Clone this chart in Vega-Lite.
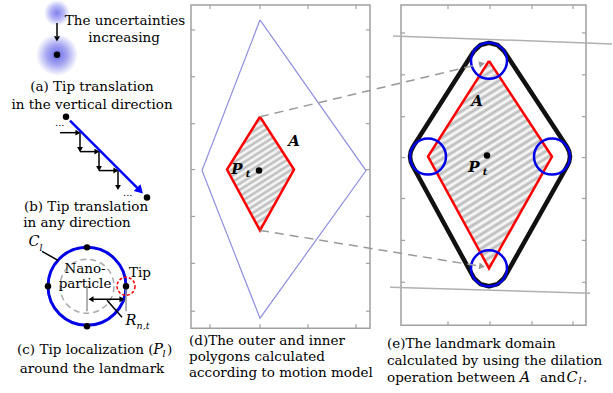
{
"$schema": "https://vega.github.io/schema/vega-lite/v6.json",
"width": 613, "height": 393,
"autosize": {"type": "fit", "contains": "padding"},
"padding": 0,
"background": "white",
"config": {"view": {"stroke": null}},
"encoding": {
  "x": {"field": "x", "type": "quantitative", "scale": {"domain": [0, 613], "nice": false, "zero": false}, "axis": null},
  "y": {"field": "y", "type": "quantitative", "scale": {"domain": [0, 393], "nice": false, "zero": false, "reverse": true}, "axis": null}
},
"layer": [
  {"data": {"values": [{"x": 191, "y": 4, "x2": 370, "y2": 328}, {"x": 401, "y": 4, "x2": 586, "y2": 325}]},
   "mark": {"type": "rect", "fillOpacity": 0, "stroke": "#a0a0a0", "strokeWidth": 1.5},
   "encoding": {"x2": {"field": "x2"}, "y2": {"field": "y2"}}},
  {"data": {"values": [
    {"x":191,"y":29,"x2":195,"y2":29},{"x":191,"y":76,"x2":195,"y2":76},{"x":191,"y":123,"x2":195,"y2":123},{"x":191,"y":169,"x2":195,"y2":169},{"x":191,"y":216,"x2":195,"y2":216},{"x":191,"y":263,"x2":195,"y2":263},{"x":191,"y":311,"x2":195,"y2":311},
    {"x":366,"y":29,"x2":370,"y2":29},{"x":366,"y":76,"x2":370,"y2":76},{"x":366,"y":123,"x2":370,"y2":123},{"x":366,"y":169,"x2":370,"y2":169},{"x":366,"y":216,"x2":370,"y2":216},{"x":366,"y":263,"x2":370,"y2":263},{"x":366,"y":311,"x2":370,"y2":311},
    {"x":210,"y":4,"x2":210,"y2":8},{"x":260,"y":4,"x2":260,"y2":8},{"x":308,"y":4,"x2":308,"y2":8},{"x":356,"y":4,"x2":356,"y2":8},
    {"x":210,"y":324,"x2":210,"y2":328},{"x":260,"y":324,"x2":260,"y2":328},{"x":308,"y":324,"x2":308,"y2":328},{"x":356,"y":324,"x2":356,"y2":328},
    {"x":401,"y":32,"x2":405,"y2":32},{"x":401,"y":74,"x2":405,"y2":74},{"x":401,"y":116,"x2":405,"y2":116},{"x":401,"y":157,"x2":405,"y2":157},{"x":401,"y":198,"x2":405,"y2":198},{"x":401,"y":240,"x2":405,"y2":240},{"x":401,"y":282,"x2":405,"y2":282},
    {"x":582,"y":32,"x2":586,"y2":32},{"x":582,"y":74,"x2":586,"y2":74},{"x":582,"y":116,"x2":586,"y2":116},{"x":582,"y":157,"x2":586,"y2":157},{"x":582,"y":198,"x2":586,"y2":198},{"x":582,"y":240,"x2":586,"y2":240},{"x":582,"y":282,"x2":586,"y2":282},
    {"x":448,"y":4,"x2":448,"y2":8},{"x":490,"y":4,"x2":490,"y2":8},{"x":532,"y":4,"x2":532,"y2":8},{"x":573,"y":4,"x2":573,"y2":8},
    {"x":448,"y":321,"x2":448,"y2":325},{"x":490,"y":321,"x2":490,"y2":325},{"x":532,"y":321,"x2":532,"y2":325},{"x":573,"y":321,"x2":573,"y2":325}
   ]},
   "mark": {"type": "rule", "stroke": "#a0a0a0", "strokeWidth": 1.2},
   "encoding": {"x2": {"field": "x2"}, "y2": {"field": "y2"}}},
  {"data": {"values": [{"x": 393, "y": 35, "x2": 612, "y2": 43}, {"x": 390, "y": 287, "x2": 590, "y2": 293}]},
   "mark": {"type": "rule", "stroke": "#b0b0b0", "strokeWidth": 1.5},
   "encoding": {"x2": {"field": "x2"}, "y2": {"field": "y2"}}},
  {"data": {"values": [{"x":260,"y":19,"o":1},{"x":366,"y":170,"o":2},{"x":260,"y":318,"o":3},{"x":202,"y":170,"o":4},{"x":260,"y":19,"o":5}]},
   "mark": {"type": "line", "stroke": "#8f8fe0", "strokeWidth": 1.2},
   "encoding": {"order": {"field": "o", "type": "quantitative"}}},
  {"data": {"values": [{"y":116,"x":260,"x2":260},{"y":169,"x":227,"x2":294},{"y":230,"x":260,"x2":260}]},
   "mark": {"type": "area", "orient": "horizontal", "fill": {"gradient": "linear", "x1": 0, "y1": 0, "x2": 0.45, "y2": 1.206, "stops": [
     {"offset":0,"color":"#b8b8b8"},{"offset":0.02,"color":"#ffffff"},{"offset":0.04,"color":"#b8b8b8"},{"offset":0.06,"color":"#ffffff"},{"offset":0.08,"color":"#b8b8b8"},{"offset":0.1,"color":"#ffffff"},{"offset":0.12,"color":"#b8b8b8"},{"offset":0.14,"color":"#ffffff"},{"offset":0.16,"color":"#b8b8b8"},{"offset":0.18,"color":"#ffffff"},{"offset":0.2,"color":"#b8b8b8"},{"offset":0.22,"color":"#ffffff"},{"offset":0.24,"color":"#b8b8b8"},{"offset":0.26,"color":"#ffffff"},{"offset":0.28,"color":"#b8b8b8"},{"offset":0.3,"color":"#ffffff"},{"offset":0.32,"color":"#b8b8b8"},{"offset":0.34,"color":"#ffffff"},{"offset":0.36,"color":"#b8b8b8"},{"offset":0.38,"color":"#ffffff"},{"offset":0.4,"color":"#b8b8b8"},{"offset":0.42,"color":"#ffffff"},{"offset":0.44,"color":"#b8b8b8"},{"offset":0.46,"color":"#ffffff"},{"offset":0.48,"color":"#b8b8b8"},{"offset":0.5,"color":"#ffffff"},{"offset":0.52,"color":"#b8b8b8"},{"offset":0.54,"color":"#ffffff"},{"offset":0.56,"color":"#b8b8b8"},{"offset":0.58,"color":"#ffffff"},{"offset":0.6,"color":"#b8b8b8"},{"offset":0.62,"color":"#ffffff"},{"offset":0.64,"color":"#b8b8b8"},{"offset":0.66,"color":"#ffffff"},{"offset":0.68,"color":"#b8b8b8"},{"offset":0.7,"color":"#ffffff"},{"offset":0.72,"color":"#b8b8b8"},{"offset":0.74,"color":"#ffffff"},{"offset":0.76,"color":"#b8b8b8"},{"offset":0.78,"color":"#ffffff"},{"offset":0.8,"color":"#b8b8b8"},{"offset":0.82,"color":"#ffffff"},{"offset":0.84,"color":"#b8b8b8"},{"offset":0.86,"color":"#ffffff"},{"offset":0.88,"color":"#b8b8b8"},{"offset":0.9,"color":"#ffffff"},{"offset":0.92,"color":"#b8b8b8"},{"offset":0.94,"color":"#ffffff"},{"offset":0.96,"color":"#b8b8b8"},{"offset":0.98,"color":"#ffffff"},{"offset":1,"color":"#b8b8b8"}]}},
   "encoding": {"x2": {"field": "x2"}}},
  {"data": {"values": [{"y":60,"x":489,"x2":489},{"y":156,"x":428,"x2":552},{"y":268,"x":489,"x2":489}]},
   "mark": {"type": "area", "orient": "horizontal", "fill": {"gradient": "linear", "x1": 0, "y1": 0, "x2": 0.45, "y2": 1.206, "stops": [
     {"offset":0,"color":"#b8b8b8"},{"offset":0.0125,"color":"#ffffff"},{"offset":0.025,"color":"#b8b8b8"},{"offset":0.0375,"color":"#ffffff"},{"offset":0.05,"color":"#b8b8b8"},{"offset":0.0625,"color":"#ffffff"},{"offset":0.075,"color":"#b8b8b8"},{"offset":0.0875,"color":"#ffffff"},{"offset":0.1,"color":"#b8b8b8"},{"offset":0.1125,"color":"#ffffff"},{"offset":0.125,"color":"#b8b8b8"},{"offset":0.1375,"color":"#ffffff"},{"offset":0.15,"color":"#b8b8b8"},{"offset":0.1625,"color":"#ffffff"},{"offset":0.175,"color":"#b8b8b8"},{"offset":0.1875,"color":"#ffffff"},{"offset":0.2,"color":"#b8b8b8"},{"offset":0.2125,"color":"#ffffff"},{"offset":0.225,"color":"#b8b8b8"},{"offset":0.2375,"color":"#ffffff"},{"offset":0.25,"color":"#b8b8b8"},{"offset":0.2625,"color":"#ffffff"},{"offset":0.275,"color":"#b8b8b8"},{"offset":0.2875,"color":"#ffffff"},{"offset":0.3,"color":"#b8b8b8"},{"offset":0.3125,"color":"#ffffff"},{"offset":0.325,"color":"#b8b8b8"},{"offset":0.3375,"color":"#ffffff"},{"offset":0.35,"color":"#b8b8b8"},{"offset":0.3625,"color":"#ffffff"},{"offset":0.375,"color":"#b8b8b8"},{"offset":0.3875,"color":"#ffffff"},{"offset":0.4,"color":"#b8b8b8"},{"offset":0.4125,"color":"#ffffff"},{"offset":0.425,"color":"#b8b8b8"},{"offset":0.4375,"color":"#ffffff"},{"offset":0.45,"color":"#b8b8b8"},{"offset":0.4625,"color":"#ffffff"},{"offset":0.475,"color":"#b8b8b8"},{"offset":0.4875,"color":"#ffffff"},{"offset":0.5,"color":"#b8b8b8"},{"offset":0.5125,"color":"#ffffff"},{"offset":0.525,"color":"#b8b8b8"},{"offset":0.5375,"color":"#ffffff"},{"offset":0.55,"color":"#b8b8b8"},{"offset":0.5625,"color":"#ffffff"},{"offset":0.575,"color":"#b8b8b8"},{"offset":0.5875,"color":"#ffffff"},{"offset":0.6,"color":"#b8b8b8"},{"offset":0.6125,"color":"#ffffff"},{"offset":0.625,"color":"#b8b8b8"},{"offset":0.6375,"color":"#ffffff"},{"offset":0.65,"color":"#b8b8b8"},{"offset":0.6625,"color":"#ffffff"},{"offset":0.675,"color":"#b8b8b8"},{"offset":0.6875,"color":"#ffffff"},{"offset":0.7,"color":"#b8b8b8"},{"offset":0.7125,"color":"#ffffff"},{"offset":0.725,"color":"#b8b8b8"},{"offset":0.7375,"color":"#ffffff"},{"offset":0.75,"color":"#b8b8b8"},{"offset":0.7625,"color":"#ffffff"},{"offset":0.775,"color":"#b8b8b8"},{"offset":0.7875,"color":"#ffffff"},{"offset":0.8,"color":"#b8b8b8"},{"offset":0.8125,"color":"#ffffff"},{"offset":0.825,"color":"#b8b8b8"},{"offset":0.8375,"color":"#ffffff"},{"offset":0.85,"color":"#b8b8b8"},{"offset":0.8625,"color":"#ffffff"},{"offset":0.875,"color":"#b8b8b8"},{"offset":0.8875,"color":"#ffffff"},{"offset":0.9,"color":"#b8b8b8"},{"offset":0.9125,"color":"#ffffff"},{"offset":0.925,"color":"#b8b8b8"},{"offset":0.9375,"color":"#ffffff"},{"offset":0.95,"color":"#b8b8b8"},{"offset":0.9625,"color":"#ffffff"},{"offset":0.975,"color":"#b8b8b8"},{"offset":0.9875,"color":"#ffffff"},{"offset":1,"color":"#b8b8b8"}]}},
   "encoding": {"x2": {"field": "x2"}}},
  {"data": {"values": [
    {"x":260,"y":116,"o":1,"g":"d"},{"x":294,"y":169,"o":2,"g":"d"},{"x":260,"y":230,"o":3,"g":"d"},{"x":227,"y":169,"o":4,"g":"d"},{"x":260,"y":116,"o":5,"g":"d"},
    {"x":489,"y":60,"o":1,"g":"e"},{"x":552,"y":156,"o":2,"g":"e"},{"x":489,"y":268,"o":3,"g":"e"},{"x":428,"y":156,"o":4,"g":"e"},{"x":489,"y":60,"o":5,"g":"e"}]},
   "mark": {"type": "line", "stroke": "#ff0000", "strokeWidth": 2.5, "strokeJoin": "miter"},
   "encoding": {"order": {"field": "o", "type": "quantitative"}, "detail": {"field": "g"}}},
  {"data": {"values": [
    {"x":474,"y":50.1,"o":1},{"x":480.5,"y":44.1,"o":2},{"x":489,"y":42,"o":3},{"x":497.5,"y":44.1,"o":4},{"x":504,"y":50.1,"o":5},
    {"x":567,"y":146.1,"o":6},{"x":569.2,"y":150.9,"o":7},{"x":570,"y":156,"o":8},{"x":569.2,"y":161.1,"o":9},{"x":567,"y":165.9,"o":10},
    {"x":504,"y":277.9,"o":11},{"x":497.5,"y":283.9,"o":12},{"x":489,"y":286,"o":13},{"x":480.5,"y":283.9,"o":14},{"x":474,"y":277.9,"o":15},
    {"x":413,"y":165.9,"o":16},{"x":410.8,"y":161.1,"o":17},{"x":410,"y":156,"o":18},{"x":410.8,"y":150.9,"o":19},{"x":413,"y":146.1,"o":20},{"x":474,"y":50.1,"o":21}]},
   "mark": {"type": "line", "stroke": "#111111", "strokeWidth": 4.5, "strokeJoin": "round"},
   "encoding": {"order": {"field": "o", "type": "quantitative"}}},
  {"data": {"values": [{"x":489,"y":60},{"x":552,"y":156},{"x":489,"y":268},{"x":428,"y":156}]},
   "mark": {"type": "point", "shape": "circle", "size": 1296, "filled": false, "stroke": "#0000e6", "strokeWidth": 2.5, "opacity": 1}},
  {"data": {"values": [{"x":87,"y":286}]},
   "mark": {"type": "point", "shape": "circle", "size": 6084, "filled": false, "stroke": "#0000e6", "strokeWidth": 3, "opacity": 1}},
  {"data": {"values": [{"x":87,"y":286}]},
   "mark": {"type": "point", "shape": "circle", "size": 2916, "filled": false, "stroke": "#aaaaaa", "strokeWidth": 1.5, "strokeDash": [6, 4], "opacity": 1}},
  {"data": {"values": [{"x":126,"y":286}]},
   "mark": {"type": "point", "shape": "circle", "size": 324, "filled": false, "stroke": "#ff0000", "strokeWidth": 1.5, "strokeDash": [3, 2], "opacity": 1}},
  {"data": {"values": [{"x":57,"y":12}]},
   "mark": {"type": "point", "shape": "circle", "size": 676, "filled": true, "strokeWidth": 0, "opacity": 1,
     "fill": {"gradient": "radial", "x1": 0.5, "y1": 0.5, "r1": 0, "x2": 0.5, "y2": 0.5, "r2": 0.5, "stops": [{"offset": 0, "color": "#8080ee"}, {"offset": 0.5, "color": "#b4b4f6"}, {"offset": 1, "color": "#ffffff"}]}}},
  {"data": {"values": [{"x":57,"y":54}]},
   "mark": {"type": "point", "shape": "circle", "size": 1764, "filled": true, "strokeWidth": 0, "opacity": 1,
     "fill": {"gradient": "radial", "x1": 0.5, "y1": 0.5, "r1": 0, "x2": 0.5, "y2": 0.5, "r2": 0.5, "stops": [{"offset": 0, "color": "#6a6ae8"}, {"offset": 0.5, "color": "#a8a8f2"}, {"offset": 1, "color": "#ffffff"}]}}},
  {"data": {"values": [{"x":260,"y":116,"x2":481,"y2":63},{"x":260,"y":230,"x2":481,"y2":266}]},
   "mark": {"type": "rule", "stroke": "#999999", "strokeWidth": 1.5, "strokeDash": [9, 6]},
   "encoding": {"x2": {"field": "x2"}, "y2": {"field": "y2"}}},
  {"data": {"values": [{"x":87,"y":286,"x2":87,"y2":311},{"x":126,"y":286,"x2":126,"y2":311}]},
   "mark": {"type": "rule", "stroke": "#999999", "strokeWidth": 1.5},
   "encoding": {"x2": {"field": "x2"}, "y2": {"field": "y2"}}},
  {"data": {"values": [
    {"x":57,"y":22,"x2":57,"y2":35},
    {"x":60,"y":132,"x2":76,"y2":132},{"x":80,"y":132,"x2":80,"y2":147},{"x":80,"y":151,"x2":95,"y2":151},{"x":99,"y":151,"x2":99,"y2":166},{"x":99,"y":170,"x2":114,"y2":170},{"x":118,"y":170,"x2":118,"y2":185},
    {"x":92,"y":299,"x2":121,"y2":299},{"x":42,"y":251,"x2":58,"y2":260},{"x":107,"y":300,"x2":122,"y2":317}]},
   "mark": {"type": "rule", "stroke": "#000000", "strokeWidth": 1.5},
   "encoding": {"x2": {"field": "x2"}, "y2": {"field": "y2"}}},
  {"data": {"values": [{"x":70,"y":120,"x2":138,"y2":188}]},
   "mark": {"type": "rule", "stroke": "#0000ff", "strokeWidth": 2.5},
   "encoding": {"x2": {"field": "x2"}, "y2": {"field": "y2"}}},
  {"data": {"values": [
    {"x":57,"y":38,"a":180},{"x":78,"y":132,"a":90},{"x":80,"y":149,"a":180},{"x":97,"y":151,"a":90},{"x":99,"y":168,"a":180},{"x":116,"y":170,"a":90},{"x":118,"y":187,"a":180},
    {"x":91,"y":299,"a":270},{"x":122,"y":299,"a":90}]},
   "mark": {"type": "point", "shape": "triangle-up", "size": 35, "filled": true, "color": "#000000", "opacity": 1},
   "encoding": {"angle": {"field": "a", "type": "quantitative", "scale": null}}},
  {"data": {"values": [{"x":140,"y":190,"a":135}]},
   "mark": {"type": "point", "shape": "triangle-up", "size": 90, "filled": true, "color": "#0000ff", "opacity": 1},
   "encoding": {"angle": {"field": "a", "type": "quantitative", "scale": null}}},
  {"data": {"values": [{"x":482,"y":63,"a":76.6},{"x":482,"y":266,"a":99.3}]},
   "mark": {"type": "point", "shape": "triangle-up", "size": 45, "filled": true, "color": "#999999", "opacity": 1},
   "encoding": {"angle": {"field": "a", "type": "quantitative", "scale": null}}},
  {"data": {"values": [{"x":57,"y":54},{"x":66,"y":116},{"x":147,"y":197},{"x":87,"y":247},{"x":48,"y":286},{"x":87,"y":326},{"x":126,"y":286},{"x":259,"y":170},{"x":487,"y":155}]},
   "mark": {"type": "point", "shape": "circle", "size": 42, "filled": true, "color": "#000000", "opacity": 1}},
  {"data": {"values": [
    {"x":125,"y":20,"t":"The uncertainties"},{"x":124,"y":37,"t":"increasing"},
    {"x":92,"y":86,"t":"(a) Tip translation"},{"x":92,"y":104,"t":"in the vertical direction"},
    {"x":86,"y":207,"t":"(b) Tip translation"},{"x":77,"y":223,"t":"in any direction"},
    {"x":85,"y":269,"t":"Nano-"},{"x":85,"y":284,"t":"particle"},{"x":140,"y":273,"t":"Tip"},
    {"x":92,"y":369,"t":"around the landmark"}]},
   "mark": {"type": "text", "font": "DejaVu Serif", "fontSize": 13.5, "align": "center", "baseline": "middle", "color": "#000000"},
   "encoding": {"text": {"field": "t"}}},
  {"data": {"values": [
    {"x":17,"y":350,"t":"(c) Tip localization ("},{"x":167,"y":350,"t":")"},
    {"x":189,"y":341,"t":"(d)The outer and inner"},{"x":189,"y":357,"t":"polygons calculated"},{"x":189,"y":373,"t":"according to motion model"},
    {"x":387,"y":344,"t":"(e)The landmark domain"},{"x":387,"y":361,"t":"calculated by using the dilation"},{"x":387,"y":378,"t":"operation between"},{"x":540,"y":378,"t":"and"},{"x":583,"y":378,"t":"."}]},
   "mark": {"type": "text", "font": "DejaVu Serif", "fontSize": 13.5, "align": "left", "baseline": "middle", "color": "#000000"},
   "encoding": {"text": {"field": "t"}}},
  {"data": {"values": [{"x":55,"y":122,"t":"..."},{"x":123,"y":192,"t":"..."}]},
   "mark": {"type": "text", "font": "DejaVu Serif", "fontSize": 10, "align": "left", "baseline": "middle", "color": "#000000"},
   "encoding": {"text": {"field": "t"}}},
  {"data": {"values": [{"x":294,"y":140,"t":"A"},{"x":477,"y":100,"t":"A"},{"x":237,"y":168,"t":"P"},{"x":474,"y":166,"t":"P"}]},
   "mark": {"type": "text", "font": "DejaVu Serif", "fontSize": 15, "fontStyle": "italic", "fontWeight": "bold", "align": "center", "baseline": "middle", "color": "#000000"},
   "encoding": {"text": {"field": "t"}}},
  {"data": {"values": [{"x":248,"y":173,"t":"t"},{"x":485,"y":171,"t":"t"}]},
   "mark": {"type": "text", "font": "DejaVu Serif", "fontSize": 10, "fontStyle": "italic", "fontWeight": "bold", "align": "center", "baseline": "middle", "color": "#000000"},
   "encoding": {"text": {"field": "t"}}},
  {"data": {"values": [{"x":34,"y":242,"t":"C"},{"x":131,"y":321,"t":"R"},{"x":158,"y":350,"t":"P"},{"x":525,"y":378,"t":"A"},{"x":572,"y":378,"t":"C"}]},
   "mark": {"type": "text", "font": "DejaVu Serif", "fontSize": 14.5, "fontStyle": "italic", "align": "center", "baseline": "middle", "color": "#000000"},
   "encoding": {"text": {"field": "t"}}},
  {"data": {"values": [{"x":41,"y":248,"t":"l"},{"x":143,"y":326,"t":"n,t"},{"x":164,"y":354,"t":"l"},{"x":580,"y":381,"t":"l"}]},
   "mark": {"type": "text", "font": "DejaVu Serif", "fontSize": 9.5, "fontStyle": "italic", "align": "center", "baseline": "middle", "color": "#000000"},
   "encoding": {"text": {"field": "t"}}}
]
}
